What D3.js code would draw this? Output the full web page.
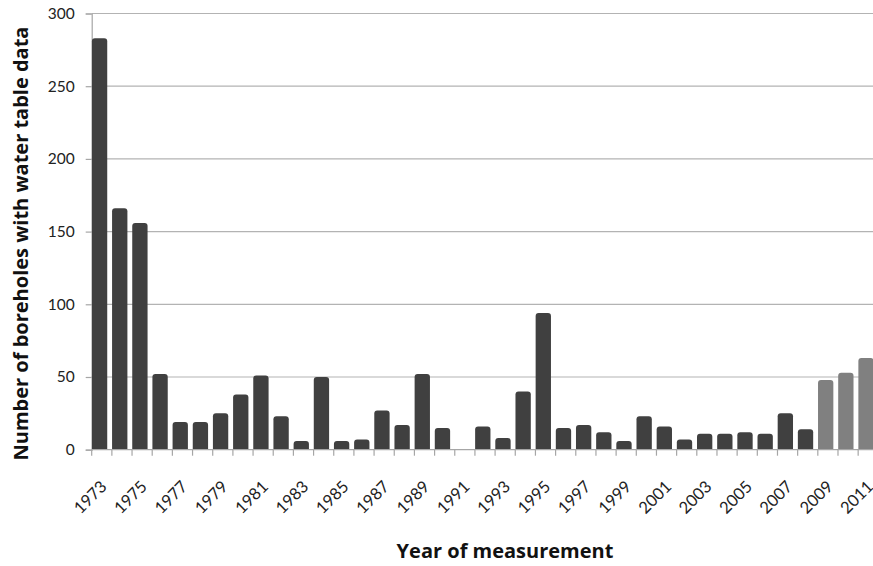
<!DOCTYPE html>
<html><head><meta charset="utf-8">
<script src="https://cdn.jsdelivr.net/npm/d3@7"></script>
<style>body{margin:0;background:#fff}svg{display:block}</style>
</head><body>
<svg id="c" width="873" height="566"></svg>
<script>
const years = d3.range(1973, 2012).map(String);
const values = [283,166,156,52,19,19,25,38,51,23,6,50,6,7,27,17,52,15,0,16,8,40,94,15,17,12,6,23,16,7,11,11,12,11,25,14,48,53,63];
const lightYears = ["2009","2010","2011"];
const yTicks = [0,50,100,150,200,250,300];
const xTickLabels = years.filter((d,i)=>i%2===0);

const svg = d3.select("#c");
const left = 91.7, zeroY = 449.7, topY = 13.5, band = 20.17;
const x = d3.scaleBand().domain(years).range([left, left + band*years.length]).padding(0);
const y = d3.scaleLinear().domain([0,300]).range([zeroY, topY]);
const font = "Lato, 'Open Sans', sans-serif";
const tfont = "'Open Sans', Lato, sans-serif";

// gridlines
svg.append("g").selectAll("line").data(yTicks.filter(d=>d>0)).join("line")
  .attr("x1", left).attr("x2", 873).attr("y1", d=>y(d)).attr("y2", d=>y(d))
  .attr("stroke", "#b3b3b3").attr("stroke-width", 1.2);

// y axis
const yAxis = d3.axisLeft(y).tickValues(yTicks).tickSize(6).tickPadding(11);
const gy = svg.append("g").attr("transform", `translate(${left},0)`).call(yAxis);
gy.select(".domain").attr("stroke", "#a6a6a6").attr("stroke-width", 1.2);
gy.selectAll(".tick line").attr("stroke", "#a6a6a6").attr("stroke-width", 1.2);
gy.selectAll("text").attr("font-family", font).attr("font-size", 15.5).attr("fill", "#222");

// bars with rounded top
const bw = band*0.76, r = 3;
function barPath(x0, y0, w, h){
  const rr = Math.min(r, h, w/2);
  if (h <= 0) return "";
  return `M${x0},${y0+h} L${x0},${y0+rr} Q${x0},${y0} ${x0+rr},${y0} L${x0+w-rr},${y0} Q${x0+w},${y0} ${x0+w},${y0+rr} L${x0+w},${y0+h} Z`;
}
svg.append("g").selectAll("path").data(years.map((yr,i)=>({yr, v: values[i]}))).join("path")
  .attr("d", d => barPath(x(d.yr)+0.2, y(d.v), bw, zeroY - y(d.v)))
  .attr("fill", d => lightYears.includes(d.yr) ? "#808080" : "#404040");

// x axis
const xAxis = d3.axisBottom(x).tickValues(xTickLabels).tickSize(0).tickPadding(0);
const gx = svg.append("g").attr("transform", `translate(0,${zeroY})`);
gx.append("line").attr("x1", left).attr("x2", 873).attr("stroke", "#a6a6a6").attr("stroke-width", 1.2);
gx.selectAll("line.tk").data(years).join("line").attr("class","tk")
  .attr("x1", d=>x(d)).attr("x2", d=>x(d)).attr("y1", 0).attr("y2", 6)
  .attr("stroke", "#a6a6a6").attr("stroke-width", 1.2);
const gl = svg.append("g").attr("transform", `translate(0,${zeroY})`).call(xAxis);
gl.select(".domain").remove();
gl.selectAll("text")
  .attr("font-family", font).attr("font-size", 16.5).attr("fill", "#222")
  .attr("text-anchor", "end").attr("dy", 0).attr("y", 0)
  .attr("transform", `translate(6,38) rotate(-45)`);

// axis titles
svg.append("text").attr("x", 505).attr("y", 558).attr("text-anchor", "middle")
  .attr("font-family", tfont).attr("font-weight", "bold").attr("font-size", 20).attr("fill", "#111")
  .text("Year of measurement");
svg.append("text").attr("transform", "translate(28,243.5) rotate(-90)").attr("text-anchor", "middle")
  .attr("font-family", tfont).attr("font-weight", "bold").attr("font-size", 20).attr("fill", "#111")
  .text("Number of boreholes with water table data");
</script>
</body></html>
